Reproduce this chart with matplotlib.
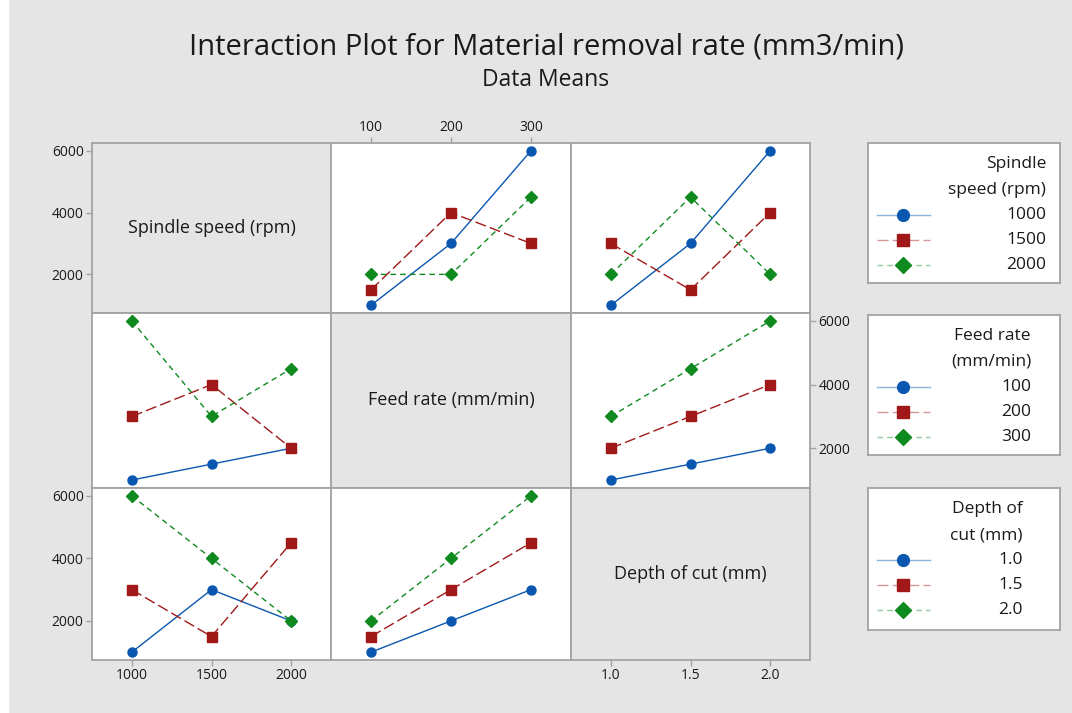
import matplotlib.pyplot as plt
from matplotlib.patches import Rectangle

# factor levels
spindle_levels = [1000, 1500, 2000]
feed_levels = [100, 200, 300]
depth_levels = [1.0, 1.5, 2.0]
spindle_labels = ["1000", "1500", "2000"]
feed_labels = ["100", "200", "300"]
depth_labels = ["1.0", "1.5", "2.0"]

# data means, one row per trace level, one value per x level
spindle_by_feed = [[1000, 3000, 6000], [1500, 4000, 3000], [2000, 2000, 4500]]
spindle_by_depth = [[1000, 3000, 6000], [3000, 1500, 4000], [2000, 4500, 2000]]
feed_by_spindle = [[1000, 1500, 2000], [3000, 4000, 2000], [6000, 3000, 4500]]
feed_by_depth = [[1000, 1500, 2000], [2000, 3000, 4000], [3000, 4500, 6000]]
depth_by_spindle = [[1000, 3000, 2000], [3000, 1500, 4500], [6000, 4000, 2000]]
depth_by_feed = [[1000, 2000, 3000], [1500, 3000, 4500], [2000, 4000, 6000]]

y_ticks = [2000, 4000, 6000]

factors = ["Spindle speed (rpm)", "Feed rate (mm/min)", "Depth of cut (mm)"]
legend_titles = ["Spindle\nspeed (rpm)", "Feed rate\n(mm/min)", "Depth of\ncut (mm)"]

W, H = 1072, 713
BG = "#e5e5e5"
EDGE = "#a3a3a3"
BLUE, RED, GREEN = "#0a57b0", "#a01818", "#0e8a1f"
INK = "#1a1a1a"

plt.rcParams["font.family"] = ["Open Sans", "DejaVu Sans"]

styles = [
    dict(color=BLUE, marker="o", ls="-", ms=6.5),
    dict(color=RED, marker="s", ls=(0, (8, 3)), ms=6.5),
    dict(color=GREEN, marker="D", ls=(0, (4, 3)), ms=6),
]


def px_rect(x0, y0, x1, y1):
    return [x0 / W, 1 - y1 / H, (x1 - x0) / W, (y1 - y0) / H]


fig = plt.figure(figsize=(W / 100, H / 100), dpi=100, facecolor=BG)
fig.patches.append(Rectangle((0, 0), 8 / W, 1, transform=fig.transFigure,
                             color="white", zorder=0))

fig.text(546 / W, 1 - 47 / H,
         "Interaction Plot for Material removal rate (mm3/min)",
         ha="center", va="center", fontsize=21, color=INK)
fig.text(546 / W, 1 - 80 / H, "Data Means", ha="center", va="center",
         fontsize=16.5, color=INK)

col_edges = [92, 331, 571, 810]
row_edges = [143, 313, 488, 660]
levels = [spindle_levels, feed_levels, depth_levels]
tick_labels = [spindle_labels, feed_labels, depth_labels]
xlims = [(750, 2250), (50, 350), (0.75, 2.25)]
means = {
    (0, 1): spindle_by_feed, (0, 2): spindle_by_depth,
    (1, 0): feed_by_spindle, (1, 2): feed_by_depth,
    (2, 0): depth_by_spindle, (2, 1): depth_by_feed,
}

for r in range(3):
    for c in range(3):
        ax = fig.add_axes(px_rect(col_edges[c], row_edges[r],
                                  col_edges[c + 1], row_edges[r + 1]))
        ax.set_xlim(xlims[c])
        ax.set_ylim(750, 6250)
        for s in ax.spines.values():
            s.set_color(EDGE)
            s.set_linewidth(1.3)
        ax.tick_params(which="both", left=False, right=False, top=False,
                       bottom=False, labelleft=False, labelright=False,
                       labeltop=False, labelbottom=False,
                       color=EDGE, length=4, width=1, labelsize=10,
                       labelcolor=INK, pad=2)
        ax.set_xticks(levels[c], labels=tick_labels[c])
        ax.set_yticks(y_ticks, labels=[str(v) for v in y_ticks])

        if r == c:
            ax.set_facecolor(BG)
            ax.text(0.5, 0.5, factors[r], transform=ax.transAxes,
                    ha="center", va="center", fontsize=13, color=INK)
        else:
            ax.set_facecolor("white")
            for vals, st in zip(means[(r, c)], styles):
                ax.plot(levels[c], vals, color=st["color"], ls=st["ls"],
                        lw=1.0, marker=st["marker"], ms=st["ms"],
                        mec=st["color"], clip_on=False)

        if (r, c) in [(0, 0), (2, 0)]:
            ax.tick_params(left=True, labelleft=True)
        if (r, c) == (1, 2):
            ax.tick_params(right=True, labelright=True)
        if (r, c) == (0, 1):
            ax.tick_params(top=True, labeltop=True)
        if (r, c) in [(2, 0), (2, 2)]:
            ax.tick_params(bottom=True, labelbottom=True)

# legends, drawn in their own boxes
legend_boxes = [(868, 143, 1060, 283), (868, 315, 1060, 455),
                (868, 488, 1060, 630)]
text_right = [1046, 1031, 1023]
for k, (x0, y0, x1, y1) in enumerate(legend_boxes):
    lax = fig.add_axes(px_rect(x0, y0, x1, y1))
    lax.set_xlim(x0, x1)
    lax.set_ylim(y1, y0)
    lax.set_facecolor("white")
    lax.set_xticks([])
    lax.set_yticks([])
    for s in lax.spines.values():
        s.set_color(EDGE)
        s.set_linewidth(1.3)
    t1, t2 = legend_titles[k].split("\n")
    lax.text(text_right[k], y0 + 21, t1, ha="right", va="center",
             fontsize=12.5, color=INK)
    lax.text(text_right[k], y0 + 47, t2, ha="right", va="center",
             fontsize=12.5, color=INK)
    for i, st in enumerate(styles):
        yy = y0 + 72 + 25 * i
        lax.plot([877, 930], [yy, yy], color=st["color"], ls=st["ls"],
                 lw=1.0, alpha=0.45)
        lax.plot([903], [yy], color=st["color"], marker=st["marker"],
                 ms=st["ms"] + 2, ls="none")
        lax.text(text_right[k], yy, tick_labels[k][i], ha="right",
                 va="center", fontsize=12.5, color=INK)

fig.savefig("out.png", dpi=100, facecolor=BG)
